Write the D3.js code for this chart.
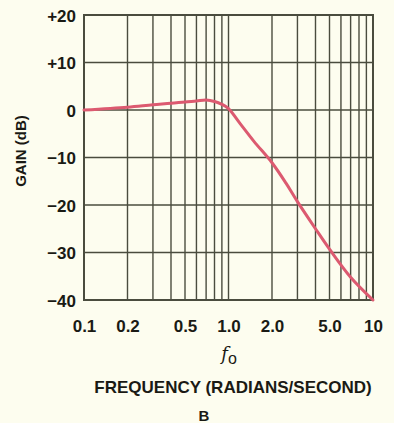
<!DOCTYPE html>
<html><head><meta charset="utf-8">
<script src="https://cdn.jsdelivr.net/npm/d3@7"></script>
<style>
html,body{margin:0;padding:0;background:#fdfdef;}
svg{display:block;}
text{font-family:"Liberation Sans",Arial,sans-serif;fill:#1a1a14;}
</style></head>
<body><svg id="c" width="394" height="423"></svg>
<script>
const freq = [0.1,0.2,0.3,0.4,0.5,0.6,0.7,0.8,0.9,1.0,1.2,1.5,2,2.5,3,4,5,7,10];
const gain = [0,0.6,1.1,1.4,1.7,1.9,2.1,1.8,1.2,0.3,-2.8,-6.6,-11.1,-15.4,-19.3,-25.0,-29.3,-35.2,-40];
const xTickValues = [0.1,0.2,0.5,1,2,5,10];
const xTickLabels = ["0.1","0.2","0.5","1.0","2.0","5.0","10"];
const xGridValues = [0.2,0.3,0.4,0.5,0.6,0.7,0.8,0.9,1,2,3,4,5,6,7,8,9];
const yTickValues = [20,10,0,-10,-20,-30,-40];
const yTickLabels = ["+20","+10","0","\u221210","\u221220","\u221230","\u221240"];

const svg = d3.select("#c");
const L=84, R=373, T=15, B=300;
const x = d3.scaleLog().domain([0.1,10]).range([L,R]);
const y = d3.scaleLinear().domain([-40,20]).range([B,T]);
const gridColor = "#4a4c3e";

svg.append("g").selectAll("line").data(xGridValues).join("line")
  .attr("x1",d=>x(d)).attr("x2",d=>x(d)).attr("y1",T).attr("y2",B)
  .attr("stroke",gridColor).attr("stroke-width",1.4);
svg.append("g").selectAll("line").data(yTickValues).join("line")
  .attr("x1",L).attr("x2",R).attr("y1",d=>y(d)).attr("y2",d=>y(d))
  .attr("stroke",gridColor).attr("stroke-width",1.6);
svg.append("rect").attr("x",L).attr("y",T).attr("width",R-L).attr("height",B-T)
  .attr("fill","none").attr("stroke",gridColor).attr("stroke-width",2);

const line = d3.line().x((d,i)=>x(freq[i])).y(d=>y(d)).curve(d3.curveCatmullRom.alpha(0.5));
svg.append("path").datum(gain).attr("d",line)
  .attr("fill","none").attr("stroke","#dc5a70").attr("stroke-width",3).attr("stroke-linecap","round");

const xAxis = d3.axisBottom(x).tickValues(xTickValues).tickSize(0).tickPadding(0)
  .tickFormat((d,i)=>xTickLabels[i]);
const gx = svg.append("g").attr("transform",`translate(0,${B})`).call(xAxis);
gx.select(".domain").remove();
gx.selectAll("text").attr("y",32).attr("dy",null).attr("font-size",17).attr("font-weight","bold").attr("fill","#1a1a14");

const yAxis = d3.axisLeft(y).tickValues(yTickValues).tickSize(0).tickPadding(0)
  .tickFormat((d,i)=>yTickLabels[i]);
const gy = svg.append("g").attr("transform",`translate(${L-8},0)`).call(yAxis);
gy.select(".domain").remove();
gy.selectAll("text").attr("dy","0.36em").attr("font-size",17).attr("font-weight","bold").attr("fill","#1a1a14");

svg.append("text").attr("transform","translate(26,151) rotate(-90)").attr("text-anchor","middle")
  .attr("font-size",15).attr("font-weight","bold").text("GAIN (dB)");
const fo = svg.append("text").attr("x",229).attr("y",360).attr("text-anchor","middle").attr("font-size",18);
fo.append("tspan").attr("font-style","italic").attr("font-family","DejaVu Serif, serif").text("f");
fo.append("tspan").attr("dy",4).attr("font-size",16).text("o");
svg.append("text").attr("x",233).attr("y",393).attr("text-anchor","middle")
  .attr("font-size",17).attr("font-weight","bold").text("FREQUENCY (RADIANS/SECOND)");
svg.append("text").attr("x",204).attr("y",421).attr("text-anchor","middle")
  .attr("font-size",15).attr("font-weight","bold").text("B");
</script></body></html>
